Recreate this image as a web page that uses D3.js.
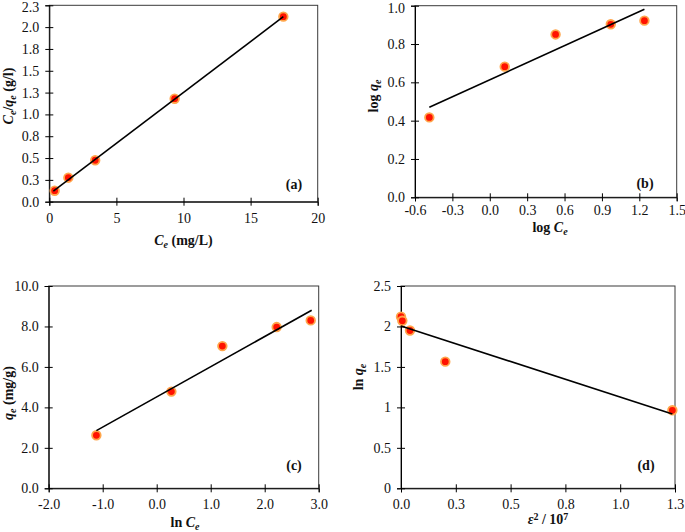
<!DOCTYPE html>
<html><head><meta charset="utf-8">
<script src="https://cdn.jsdelivr.net/npm/d3@7"></script>
<style>body{margin:0;background:#fff} svg{display:block} svg text{font-family:"Liberation Serif","Times New Roman",serif;}</style>
</head><body><svg id="c" width="685" height="532"></svg>
<script>
// ---- Data ----
// (a) Langmuir
const aX = [0.40, 1.42, 3.42, 9.34, 17.44];
const aY = [0.126, 0.275, 0.475, 1.18, 2.12];
const aLineX = [0.30, 17.44];
const aLineY = [0.12, 2.12];
const aXTicks = [0, 5, 10, 15, 20];
const aXLabels = ["0", "5", "10", "15", "20"];
const aYTicks = [0, 0.25, 0.5, 0.75, 1.0, 1.25, 1.5, 1.75, 2.0, 2.25];
const aYLabels = ["0.0", "0.3", "0.5", "0.8", "1.0", "1.3", "1.5", "1.8", "2.0", "2.3"];
// (b) Freundlich
const bX = [-0.485, 0.12, 0.528, 0.971, 1.241];
const bY = [0.417, 0.682, 0.850, 0.903, 0.922];
const bLineX = [-0.485, 1.241];
const bLineY = [0.470, 0.981];
const bXTicks = [-0.6, -0.3, 0.0, 0.3, 0.6, 0.9, 1.2, 1.5];
const bXLabels = ["-0.6", "-0.3", "0.0", "0.3", "0.6", "0.9", "1.2", "1.5"];
const bYTicks = [0, 0.2, 0.4, 0.6, 0.8, 1.0];
const bYLabels = ["0.0", "0.2", "0.4", "0.6", "0.8", "1.0"];
// (c) Temkin
const cX = [-1.117, 0.272, 1.216, 2.222, 2.852];
const cY = [2.62, 4.78, 7.03, 7.97, 8.30];
const cLineX = [-1.117, 2.87];
const cLineY = [2.85, 8.80];
const cXTicks = [-2, -1, 0, 1, 2, 3];
const cXLabels = ["-2.0", "-1.0", "0.0", "1.0", "2.0", "3.0"];
const cYTicks = [0, 2, 4, 6, 8, 10];
const cYLabels = ["0.0", "2.0", "4.0", "6.0", "8.0", "10.0"];
// (d) D-R
const dX = [0.0, 0.006, 0.041, 0.202, 1.238];
const dY = [2.12, 2.07, 1.95, 1.565, 0.964];
const dLineX = [0.0, 1.238];
const dLineY = [2.006, 0.918];
const dXTicks = [0, 0.25, 0.5, 0.75, 1.0, 1.25];
const dXLabels = ["0.0", "0.3", "0.5", "0.8", "1.0", "1.3"];
const dYTicks = [0, 0.5, 1, 1.5, 2, 2.5];
const dYLabels = ["0", "0.5", "1", "1.5", "2", "2.5"];

// ---- Drawing ----
const FONT = '"Liberation Serif","Times New Roman",serif';
const svg = d3.select("#c");

const panels = [
  {x: aX, y: aY, lx: aLineX, ly: aLineY, xt: aXTicks, xl: aXLabels, yt: aYTicks, yl: aYLabels,
   xd: [0, 20], yd: [0, 2.25], L: 49.3, R: 317.7, T: 5.3, B: 201.7, xpad: 7, label: "(a)", lp: [294, 189],
   xtitle: [["C", 1], ["e", 1, "sub"], [" (mg/L)", 0]], xtp: [183.5, 245],
   ytitle: [["C", 1], ["e", 1, "sub"], ["/", 0], ["q", 1], ["e", 1, "sub"], [" (g/l)", 0]], ytp: [13, 96]},
  {x: bX, y: bY, lx: bLineX, ly: bLineY, xt: bXTicks, xl: bXLabels, yt: bYTicks, yl: bYLabels,
   xd: [-0.6, 1.5], yd: [0, 1.0], L: 415, R: 676.7, T: 5.7, B: 197.3, xpad: 3.5, label: "(b)", lp: [645, 188],
   xtitle: [["log ", 0], ["C", 1], ["e", 1, "sub"]], xtp: [550, 232],
   ytitle: [["log ", 0], ["q", 1], ["e", 1, "sub"]], ytp: [378, 96]},
  {x: cX, y: cY, lx: cLineX, ly: cLineY, xt: cXTicks, xl: cXLabels, yt: cYTicks, yl: cYLabels,
   xd: [-2, 3], yd: [0, 10], L: 48.7, R: 318.7, T: 286, B: 488.3, xpad: 7, label: "(c)", lp: [294, 470],
   xtitle: [["ln ", 0], ["C", 1], ["e", 1, "sub"]], xtp: [185, 527],
   ytitle: [["q", 1], ["e", 1, "sub"], [" (mg/g)", 0]], ytp: [13, 393]},
  {x: dX, y: dY, lx: dLineX, ly: dLineY, xt: dXTicks, xl: dXLabels, yt: dYTicks, yl: dYLabels,
   xd: [0, 1.25], yd: [0, 2.5], L: 401, R: 675, T: 286, B: 488.3, xpad: 6.5, label: "(d)", lp: [646, 470],
   xtitle: [["ε", 1], ["2", 0, "sup"], [" / 10", 0], ["7", 0, "sup"]], xtp: [548, 524],
   ytitle: [["ln ", 0], ["q", 1], ["e", 1, "sub"]], ytp: [363, 377]}
];

function richText(sel, parts) {
  let prev = null;
  parts.forEach(p => {
    const t = sel.append("tspan").text(p[0]).style("font-style", p[1] ? "italic" : "normal");
    let dy = 0;
    if (prev === "sub") dy -= 3;
    if (prev === "sup") dy += 4;
    if (p[2] === "sub") { t.style("font-size", "10px"); dy += 3; }
    else if (p[2] === "sup") { t.style("font-size", "10px"); dy -= 4; }
    if (dy !== 0) t.attr("dy", dy);
    prev = p[2] || null;
  });
}

panels.forEach(p => {
  const x = d3.scaleLinear().domain(p.xd).range([p.L, p.R]);
  const y = d3.scaleLinear().domain(p.yd).range([p.B, p.T]);
  const g = svg.append("g");

  g.append("rect").attr("x", p.L).attr("y", p.T).attr("width", p.R - p.L).attr("height", p.B - p.T)
    .attr("fill", "none").attr("stroke", "#3a3a3a").attr("stroke-width", 1);

  const xa = g.append("g").attr("transform", `translate(0,${p.B})`)
    .call(d3.axisBottom(x).tickValues(p.xt).tickFormat((d, i) => p.xl[i]).tickSize(4).tickPadding(p.xpad));
  xa.attr("font-family", null).attr("font-size", null);
  xa.select(".domain").attr("stroke", "#000");
  xa.selectAll(".tick line").attr("y1", -4).attr("y2", 4).attr("stroke", "#000");
  xa.selectAll("text").style("font-family", FONT).style("font-size", "14px").attr("fill", "#111");

  const ya = g.append("g").attr("transform", `translate(${p.L},0)`)
    .call(d3.axisLeft(y).tickValues(p.yt).tickFormat((d, i) => p.yl[i]).tickSize(4).tickPadding(6));
  ya.attr("font-family", null).attr("font-size", null);
  ya.select(".domain").attr("stroke", "#000");
  ya.selectAll(".tick line").attr("x1", -4).attr("x2", 4).attr("stroke", "#000");
  ya.selectAll("text").style("font-family", FONT).style("font-size", "14px").attr("fill", "#111");
  // keep the topmost label inside the page when it sits against the top edge
  ya.selectAll(".tick text").filter(d => y(d) < 8).attr("dy", "0.45em");

  const pts = p.x.map((v, i) => [v, p.y[i]]);
  g.selectAll("circle.pt").data(pts).enter().append("circle")
    .attr("cx", d => x(d[0])).attr("cy", d => y(d[1])).attr("r", 4.3)
    .attr("fill", "#ff1200").attr("stroke", "#ffa54a").attr("stroke-width", 1.8);

  const lpts = p.lx.map((v, i) => [v, p.ly[i]]);
  g.append("path").attr("d", d3.line().x(d => x(d[0])).y(d => y(d[1]))(lpts))
    .attr("stroke", "#000").attr("stroke-width", 1.6).attr("fill", "none");

  g.append("text").attr("x", p.lp[0]).attr("y", p.lp[1]).attr("text-anchor", "middle")
    .style("font-family", FONT).style("font-size", "14px").style("font-weight", "bold").attr("fill", "#111").text(p.label);

  const xt = g.append("text").attr("x", p.xtp[0]).attr("y", p.xtp[1]).attr("text-anchor", "middle")
    .style("font-family", FONT).style("font-size", "14px").style("font-weight", "bold").attr("fill", "#111");
  richText(xt, p.xtitle);

  const yt = g.append("text").attr("transform", `translate(${p.ytp[0]},${p.ytp[1]}) rotate(-90)`)
    .attr("text-anchor", "middle")
    .style("font-family", FONT).style("font-size", "14px").style("font-weight", "bold").attr("fill", "#111");
  richText(yt, p.ytitle);
});
</script></body></html>
